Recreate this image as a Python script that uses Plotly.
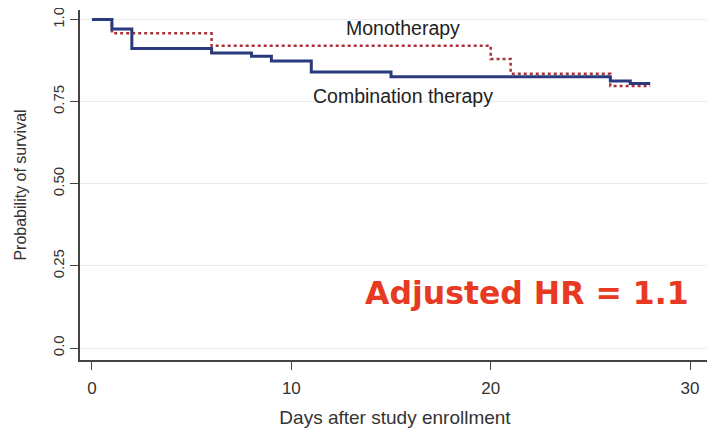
import plotly.graph_objects as go

# Kaplan-Meier step data (days, survival probability)
combo_days = [0, 1, 2, 6, 8, 9, 11, 15, 26, 27, 28]
combo_surv = [1.0, 0.971, 0.912, 0.898, 0.888, 0.874, 0.840, 0.826, 0.813, 0.805, 0.805]

mono_days = [0, 1, 6, 20, 21, 26, 28]
mono_surv = [1.0, 0.958, 0.920, 0.880, 0.835, 0.798, 0.798]

x_ticks = [0, 10, 20, 30]
y_ticks = [0.0, 0.25, 0.5, 0.75, 1.0]
y_tick_labels = ["0.0", "0.25", "0.50", "0.75", "1.0"]

fig = go.Figure()
fig.add_trace(go.Scatter(x=mono_days, y=mono_surv, mode="lines", line_shape="hv",
                         line=dict(color="#A8343A", width=2.5, dash="dot"),
                         name="Monotherapy", showlegend=False))
fig.add_trace(go.Scatter(x=combo_days, y=combo_surv, mode="lines", line_shape="hv",
                         line=dict(color="#2B3A7C", width=3),
                         name="Combination therapy", showlegend=False))

lab_font = dict(family="Liberation Sans, Arial", size=19.5, color="#222")
fig.add_annotation(x=15.6, y=0.974, text="Monotherapy", showarrow=False, font=lab_font)
fig.add_annotation(x=15.6, y=0.766, text="Combination therapy", showarrow=False, font=lab_font)
fig.add_annotation(x=21.8, y=0.168, text="<b>Adjusted HR = 1.1</b>", showarrow=False,
                   font=dict(family="DejaVu Sans, Verdana", size=31.5, color="#E83A22"))

fig.update_layout(
    width=707, height=421,
    margin=dict(l=72, r=5, t=2, b=69),
    paper_bgcolor="white", plot_bgcolor="white",
    xaxis=dict(range=[-0.6, 31.0], tickvals=x_ticks, ticks="outside", ticklen=8,
               tickcolor="#444", showline=True, linecolor="#444", linewidth=1.5,
               showgrid=False, zeroline=False, automargin=False, ticklabelstandoff=4,
               tickfont=dict(family="Liberation Sans, Arial", size=17, color="#333"),
               title=dict(text="Days after study enrollment",
                          font=dict(family="Liberation Sans, Arial", size=19, color="#333"),
                          standoff=14)),
    yaxis=dict(range=[-0.0365, 1.029], tickvals=y_ticks, ticktext=y_tick_labels,
               tickangle=-90, ticks="outside", ticklen=8, tickcolor="#444",
               showline=True, linecolor="#444", linewidth=1.5,
               showgrid=True, gridcolor="#EBEBEB", gridwidth=1, zeroline=False,
               automargin=False, ticklabeloverflow="allow",
               tickfont=dict(family="Liberation Sans, Arial", size=15, color="#333"),
               title=dict(text="Probability of survival",
                          font=dict(family="Liberation Sans, Arial", size=16, color="#333"),
                          standoff=20)),
)

fig.write_html("out.html")
